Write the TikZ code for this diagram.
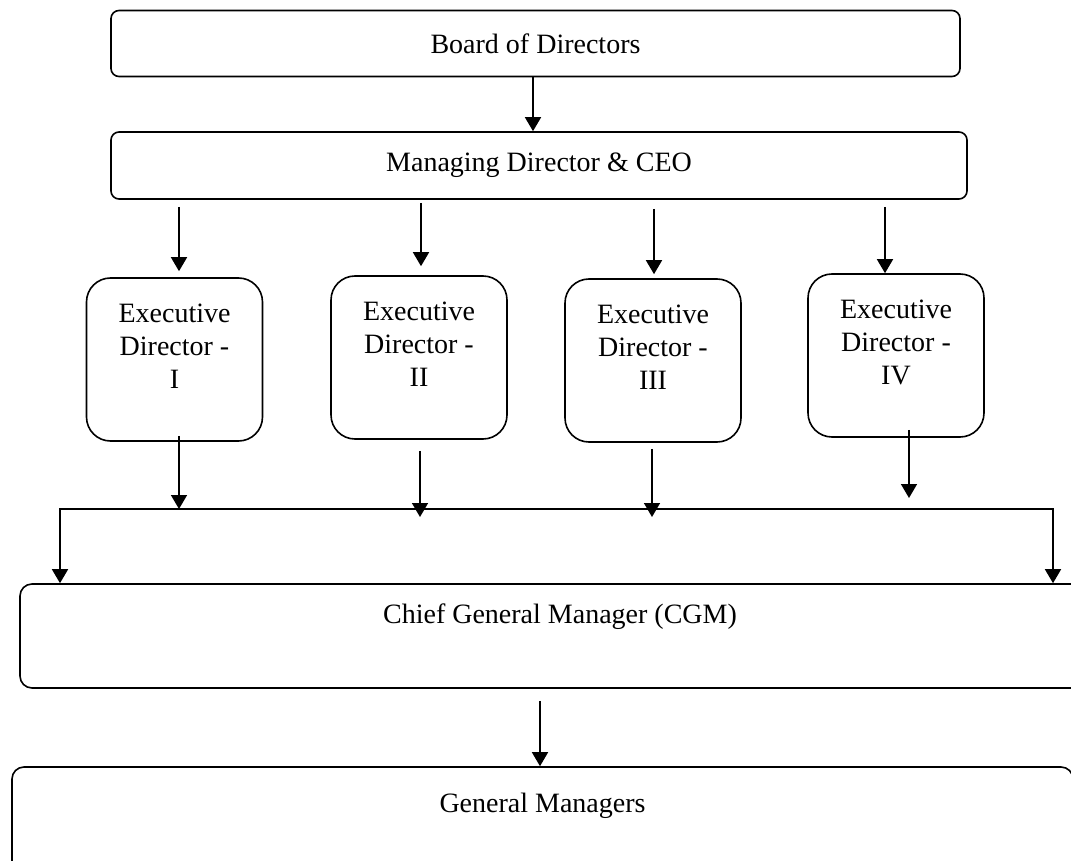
\documentclass[tikz,border=0pt]{standalone}
\usepackage{fontspec}
\setmainfont{Liberation Serif}
\usetikzlibrary{arrows.meta,calc}

\begin{document}
\begin{tikzpicture}[x=0.5pt, y=-0.5pt, line width=0.8pt,
	wide/.style={draw, rounded corners=4pt, minimum height=33pt, inner sep=0pt,
	font=\fontsize{14}{17}\selectfont},
	exec/.style={draw, rounded corners=12pt, minimum width=88pt, minimum height=81.5pt, inner sep=0pt},
	big/.style={draw, rounded corners=6pt, inner sep=0pt},
	intext/.style={anchor=north, inner sep=0pt, align=center, font=\fontsize{14}{16.5}\selectfont},
	arr/.style={-{Triangle[width=8pt,length=7pt]}},
	arrs/.style={{Triangle[width=8pt,length=7pt]}-{Triangle[width=8pt,length=7pt]}}]
\useasboundingbox (0,0) rectangle (1071,861);
\node[wide, minimum width=424.5pt] (board) at (535.5,43.5) {Board of Directors};
\node[wide, minimum width=428pt, minimum height=33.5pt] (md) at (539,165.5) {Managing Director \& CEO};
\node[exec, label={[intext, yshift=-13pt]north:{Executive\\Director -\\I}}] (ed1) at (174.5,359.5) {};
\node[exec, label={[intext, yshift=-13pt]north:{Executive\\Director -\\II}}] (ed2) at (419,357.5) {};
\node[exec, label={[intext, yshift=-13pt]north:{Executive\\Director -\\III}}] (ed3) at (653,360.5) {};
\node[exec, label={[intext, yshift=-13pt]north:{Executive\\Director -\\IV}}] (ed4) at (896,355.5) {};
\node[big, minimum width=540pt, minimum height=52pt,
	label={[intext, yshift=-10pt]north:Chief General Manager (CGM)}] (cgm) at (560,636) {};
\node[big, minimum width=530.5pt, minimum height=61.5pt,
	label={[intext, yshift=-13pt]north:General Managers}] (gm) at (542.5,828.5) {};
\coordinate (busl) at (60,509);
\coordinate (busr) at (1053,509);
% board -> md
\draw[arr] ($(board.south)+(-2.5,0)$) -- ($(board.south |- md.north)+(-2.5,0)$);
\foreach \n/\dx/\ds/\de in {ed1/4.5/7/-6, ed2/2/3/-9, ed3/1/9/-4, ed4/-11/7/0}
	\draw[arr] ($(\n.north |- md.south)+(\dx,\ds)$) -- ($(\n.north)+(\dx,\de)$);
\foreach \n/\dx/\ds/\de in {ed1/4.5/-6/0, ed2/1/11/8, ed3/-1/6/8, ed4/13/-8/-11}
	\draw[arr] ($(\n.south)+(\dx,\ds)$) -- ($(\n.south |- busl)+(\dx,\de)$);
\draw[arrs] (busl |- cgm.north) -- (busl) -- (busr) -- (busr |- cgm.north);
\draw[arr] ($(gm.north |- cgm.south)+(-2.5,12)$) -- ($(gm.north)+(-2.5,0)$);
\end{tikzpicture}
\end{document}
